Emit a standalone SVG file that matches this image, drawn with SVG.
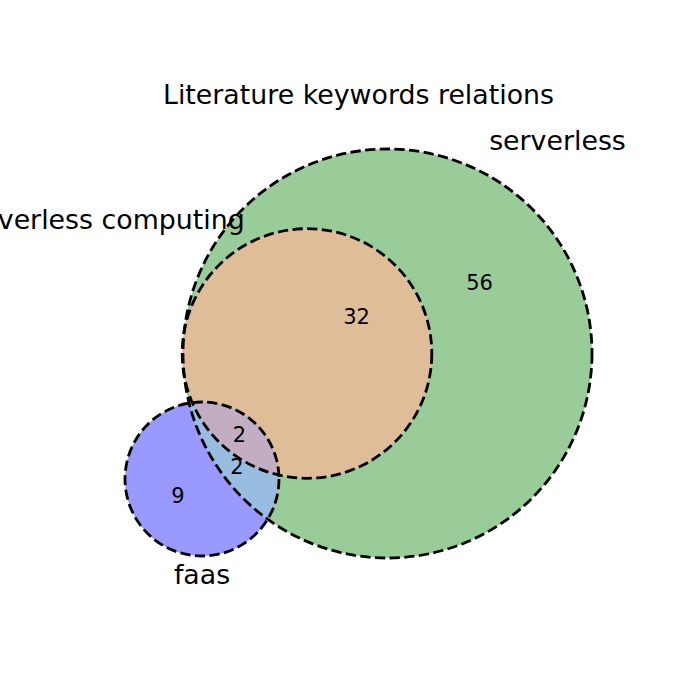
<svg xmlns="http://www.w3.org/2000/svg" width="700" height="700" viewBox="0 0 700 700">
<style>
text{font-family:"DejaVu Sans","Liberation Sans",sans-serif;fill:#000;text-anchor:middle}
.lbl{font-size:26.8px}
.num{font-size:21px}
.edge{fill:none;stroke:#000;stroke-width:2.8;stroke-dasharray:10.3 4.4}
</style>
<defs>
<circle id="A" cx="307" cy="353.5" r="124.8"/>
<circle id="B" cx="387.5" cy="353.5" r="204.5"/>
<circle id="C" cx="202" cy="479" r="77"/>
<clipPath id="cB"><use href="#B"/></clipPath>
<clipPath id="cC"><use href="#C"/></clipPath>
</defs>
<rect width="700" height="700" fill="#fff"/>
<text class="lbl" x="358.5" y="104">Literature keywords relations</text>
<g id="regions">
<use href="#A" fill="#FF9999"/>
<use href="#B" fill="#99CC99"/>
<g clip-path="url(#cB)"><use href="#A" fill="#E0BD99"/></g>
<use href="#C" fill="#9999FF"/>
<g clip-path="url(#cC)">
<use href="#A" fill="#E099E0"/>
<use href="#B" fill="#99BDE0"/>
<g clip-path="url(#cB)"><use href="#A" fill="#C2ADC2"/></g>
</g>
</g>
<g id="set-serverless-computing">
<use href="#A" class="edge"/>
<text class="lbl" x="100.5" y="229">serverless computing</text>
</g>
<g id="set-serverless">
<use href="#B" class="edge"/>
<text class="lbl" x="557.5" y="150">serverless</text>
</g>
<g id="set-faas">
<use href="#C" class="edge"/>
<text class="lbl" x="202" y="584">faas</text>
</g>
<g id="counts">
<text class="num" x="479.5" y="290">56</text>
<text class="num" x="356.5" y="324">32</text>
<text class="num" x="239.5" y="442">2</text>
<text class="num" x="237" y="474">2</text>
<text class="num" x="178" y="503">9</text>
</g>
</svg>
